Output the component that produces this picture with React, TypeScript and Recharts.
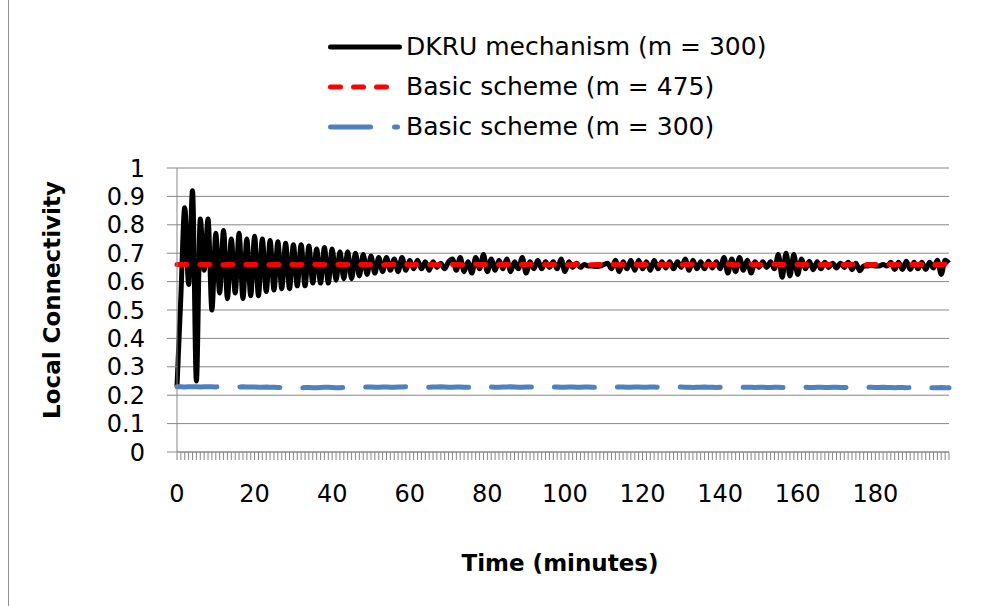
import React from 'react';
import { LineChart, Line, XAxis, YAxis, CartesianGrid, Legend, Label } from 'recharts';

// Time axis: one category per minute, 0 … 199
const minutes: number[] = Array.from({ length: 200 }, (_, i) => i);
const minuteLabels = [0, 20, 40, 60, 80, 100, 120, 140, 160, 180];
const connectivityTicks = [0, 0.1, 0.2, 0.3, 0.4, 0.5, 0.6, 0.7, 0.8, 0.9, 1];

// DKRU mechanism (m = 300)
const dkruValues = [
  0.23, 0.55, 0.86, 0.59, 0.92, 0.25, 0.82, 0.64, 0.82, 0.5,
  0.77, 0.56, 0.78, 0.54, 0.75, 0.56, 0.77, 0.54, 0.75, 0.55,
  0.76, 0.55, 0.75, 0.565, 0.745, 0.57, 0.74, 0.575, 0.735, 0.575,
  0.73, 0.585, 0.73, 0.585, 0.725, 0.595, 0.715, 0.595, 0.72, 0.595,
  0.715, 0.605, 0.705, 0.61, 0.705, 0.61, 0.7, 0.62, 0.695, 0.625,
  0.69, 0.63, 0.685, 0.635, 0.685, 0.64, 0.68, 0.635, 0.685, 0.64,
  0.675, 0.645, 0.675, 0.645, 0.67, 0.64, 0.67, 0.65, 0.665, 0.645,
  0.67, 0.68, 0.64, 0.685, 0.635, 0.67, 0.63, 0.685, 0.645, 0.695,
  0.635, 0.68, 0.64, 0.675, 0.645, 0.68, 0.635, 0.67, 0.645, 0.685,
  0.63, 0.67, 0.645, 0.675, 0.645, 0.67, 0.65, 0.67, 0.645, 0.68,
  0.635, 0.67, 0.65, 0.665, 0.65, 0.66, 0.655, 0.655, 0.653, 0.655,
  0.66, 0.665, 0.645, 0.675, 0.635, 0.67, 0.645, 0.675, 0.64, 0.675,
  0.645, 0.67, 0.64, 0.675, 0.645, 0.67, 0.648, 0.67, 0.645, 0.67,
  0.65, 0.68, 0.64, 0.675, 0.645, 0.67, 0.645, 0.672, 0.648, 0.67,
  0.645, 0.685, 0.63, 0.68, 0.635, 0.685, 0.64, 0.675, 0.63, 0.67,
  0.65, 0.67, 0.65, 0.67, 0.645, 0.695, 0.615, 0.7, 0.62, 0.695,
  0.625, 0.68, 0.645, 0.672, 0.642, 0.67, 0.645, 0.668, 0.65, 0.665,
  0.648, 0.665, 0.65, 0.668, 0.642, 0.665, 0.638, 0.655, 0.655, 0.658,
  0.655, 0.655, 0.66, 0.655, 0.668, 0.643, 0.668, 0.643, 0.672, 0.643,
  0.668, 0.645, 0.668, 0.643, 0.668, 0.648, 0.675, 0.625, 0.675, 0.665,
];

// Basic scheme (m = 475)
const basic475Values = [
  0.66, 0.66, 0.661, 0.66, 0.66, 0.659, 0.66, 0.66, 0.661, 0.66, 0.66, 0.66, 0.659, 0.66, 0.66, 0.661, 0.66, 0.66, 0.66, 0.66,
  0.66, 0.661, 0.66, 0.66, 0.659, 0.66, 0.66, 0.66, 0.661, 0.66, 0.66, 0.659, 0.66, 0.66, 0.66, 0.661, 0.66, 0.66, 0.66, 0.659,
  0.66, 0.66, 0.661, 0.66, 0.66, 0.66, 0.659, 0.66, 0.66, 0.661, 0.66, 0.66, 0.66, 0.659, 0.66, 0.66, 0.661, 0.66, 0.66, 0.66,
  0.659, 0.66, 0.66, 0.661, 0.66, 0.66, 0.66, 0.659, 0.66, 0.66, 0.661, 0.66, 0.66, 0.66, 0.659, 0.66, 0.66, 0.661, 0.66, 0.66,
  0.66, 0.66, 0.659, 0.66, 0.661, 0.66, 0.66, 0.66, 0.659, 0.66, 0.66, 0.661, 0.66, 0.66, 0.659, 0.66, 0.66, 0.66, 0.661, 0.66,
  0.66, 0.659, 0.66, 0.66, 0.661, 0.66, 0.66, 0.659, 0.66, 0.66, 0.66, 0.661, 0.66, 0.66, 0.659, 0.66, 0.66, 0.661, 0.66, 0.66,
  0.661, 0.66, 0.66, 0.659, 0.66, 0.66, 0.661, 0.66, 0.66, 0.66, 0.659, 0.66, 0.66, 0.661, 0.66, 0.66, 0.659, 0.66, 0.66, 0.66,
  0.66, 0.66, 0.661, 0.66, 0.659, 0.66, 0.66, 0.66, 0.661, 0.66, 0.66, 0.659, 0.66, 0.66, 0.661, 0.66, 0.66, 0.66, 0.659, 0.66,
  0.66, 0.661, 0.66, 0.66, 0.659, 0.66, 0.66, 0.661, 0.66, 0.66, 0.66, 0.659, 0.66, 0.66, 0.661, 0.66, 0.66, 0.659, 0.66, 0.66,
  0.66, 0.66, 0.659, 0.66, 0.661, 0.66, 0.66, 0.66, 0.659, 0.66, 0.66, 0.661, 0.66, 0.66, 0.66, 0.659, 0.66, 0.66, 0.661, 0.66,
];

// Basic scheme (m = 300)
const basic300Values = [
  0.23, 0.23, 0.229, 0.23, 0.23, 0.23, 0.229, 0.23, 0.23, 0.23, 0.229, 0.23, 0.23, 0.229, 0.229, 0.228, 0.229, 0.23, 0.229, 0.229,
  0.229, 0.228, 0.228, 0.229, 0.228, 0.228, 0.227, 0.227, 0.228, 0.228, 0.227, 0.227, 0.226, 0.227, 0.227, 0.226, 0.226, 0.227, 0.228, 0.228,
  0.227, 0.226, 0.226, 0.227, 0.228, 0.229, 0.229, 0.228, 0.228, 0.229, 0.229, 0.228, 0.228, 0.229, 0.229, 0.228, 0.228, 0.229, 0.229, 0.23,
  0.229, 0.229, 0.23, 0.229, 0.229, 0.228, 0.229, 0.229, 0.23, 0.229, 0.228, 0.228, 0.229, 0.229, 0.228, 0.228, 0.228, 0.229, 0.229, 0.228,
  0.229, 0.229, 0.228, 0.228, 0.229, 0.229, 0.23, 0.229, 0.228, 0.228, 0.229, 0.229, 0.228, 0.228, 0.229, 0.229, 0.228, 0.229, 0.229, 0.228,
  0.228, 0.229, 0.229, 0.228, 0.228, 0.229, 0.229, 0.228, 0.228, 0.229, 0.229, 0.228, 0.228, 0.228, 0.229, 0.229, 0.228, 0.228, 0.229, 0.229,
  0.228, 0.228, 0.229, 0.229, 0.228, 0.228, 0.229, 0.228, 0.228, 0.229, 0.229, 0.228, 0.228, 0.227, 0.228, 0.228, 0.229, 0.228, 0.228, 0.227,
  0.228, 0.228, 0.229, 0.228, 0.227, 0.227, 0.228, 0.228, 0.228, 0.227, 0.228, 0.228, 0.227, 0.227, 0.228, 0.228, 0.227, 0.228, 0.228, 0.227,
  0.227, 0.228, 0.228, 0.227, 0.227, 0.228, 0.228, 0.227, 0.227, 0.228, 0.228, 0.227, 0.227, 0.228, 0.228, 0.227, 0.227, 0.227, 0.228, 0.228,
  0.227, 0.227, 0.228, 0.227, 0.227, 0.226, 0.227, 0.227, 0.226, 0.227, 0.227, 0.226, 0.226, 0.227, 0.226, 0.226, 0.226, 0.227, 0.226, 0.226,
];

const chartData = minutes.map((t, i) => ({
  t,
  dkru: dkruValues[i],
  basic475: basic475Values[i],
  basic300: basic300Values[i],
}));

const FONT = '"DejaVu Sans", sans-serif';
const AXIS_GRAY = '#878787';
const BLUE = '#4F81BD';

const legendItems = [
  { key: 'dkru', name: 'DKRU mechanism (m = 300)' },
  { key: 'basic475', name: 'Basic scheme (m = 475)' },
  { key: 'basic300', name: 'Basic scheme (m = 300)' },
];

const LegendSample = ({ kind }: { kind: string }) => {
  if (kind === 'dkru') {
    return <line x1={2.5} y1={5} x2={71.5} y2={5} stroke="#000" strokeWidth={5} strokeLinecap="round" />;
  }
  if (kind === 'basic475') {
    return (
      <line x1={2.5} y1={5} x2={58.5} y2={5} stroke="#FF0000" strokeWidth={5}
        strokeLinecap="round" strokeDasharray="10 13" />
    );
  }
  return (
    <g>
      <line x1={2.5} y1={5} x2={42.5} y2={5} stroke={BLUE} strokeWidth={5} strokeLinecap="round" />
      <line x1={66.5} y1={5} x2={69.5} y2={5} stroke={BLUE} strokeWidth={5} strokeLinecap="round" />
    </g>
  );
};

const LegendRows = () => (
  <div style={{ paddingTop: 7, height: 141, fontFamily: FONT, fontSize: 25, color: '#000' }}>
    {legendItems.map((item) => (
      <div key={item.key} style={{ height: 40, display: 'flex', alignItems: 'center' }}>
        <svg width={74} height={10} style={{ display: 'block', flex: 'none' }}>
          <LegendSample kind={item.key} />
        </svg>
        <span style={{ marginLeft: 4, whiteSpace: 'nowrap', lineHeight: '40px' }}>{item.name}</span>
      </div>
    ))}
  </div>
);

const MinuteTick = (props: any) => {
  const { x, y, payload } = props;
  if (!minuteLabels.includes(payload.value)) return <g />;
  return (
    <text x={x} y={y} dy={40} textAnchor="middle" fontFamily={FONT} fontSize={24} fill="#000">
      {payload.value}
    </text>
  );
};

export default function App() {
  return (
    <div style={{ position: 'absolute', left: 0, top: 0, width: 986, height: 606, background: '#fff' }}>
      <div style={{ position: 'absolute', left: 8, top: 0, width: 1, height: 606, background: '#8f8f8f' }} />
      <LineChart
        width={986}
        height={606}
        data={chartData}
        margin={{ top: 20, right: 37, bottom: 0, left: 0 }}
      >
        <CartesianGrid vertical={false} stroke={AXIS_GRAY} strokeWidth={1} />
        <XAxis
          dataKey="t"
          interval={0}
          tickSize={8}
          tickLine={{ stroke: AXIS_GRAY }}
          axisLine={{ stroke: AXIS_GRAY }}
          tick={<MinuteTick />}
          height={154}
        >
          <Label
            content={(p: any) => {
              const vb = p.viewBox || { x: 177, y: 452, width: 772, height: 154 };
              return (
                <text x={vb.x + vb.width / 2 - 3} y={571} textAnchor="middle" fontFamily={FONT}
                  fontSize={23} fontWeight="bold" fill="#000">
                  Time (minutes)
                </text>
              );
            }}
          />
        </XAxis>
        <YAxis
          type="number"
          domain={[0, 1]}
          ticks={connectivityTicks}
          interval={0}
          width={177}
          tickSize={10}
          tickMargin={22}
          tickLine={{ stroke: AXIS_GRAY }}
          axisLine={{ stroke: AXIS_GRAY }}
          tick={{ fontFamily: FONT, fontSize: 24, fill: '#000' }}
        >
          <Label
            content={() => (
              <text x={52} y={300} transform="rotate(-90 52 300)" textAnchor="middle"
                dominantBaseline="central" fontFamily={FONT} fontSize={23} fontWeight="bold" fill="#000">
                Local Connectivity
              </text>
            )}
          />
        </YAxis>
        <Legend verticalAlign="top" content={<LegendRows />} wrapperStyle={{ left: 328, top: 20, width: 560 }} />
        <Line dataKey="dkru" name="DKRU mechanism (m = 300)" type="monotone" stroke="#000"
          strokeWidth={5} strokeLinejoin="round" dot={false} activeDot={false} isAnimationActive={false} />
        <Line dataKey="basic475" name="Basic scheme (m = 475)" type="linear" stroke="#FF0000"
          strokeWidth={5} strokeDasharray="10 13" strokeLinecap="round" dot={false} activeDot={false}
          isAnimationActive={false} />
        <Line dataKey="basic300" name="Basic scheme (m = 300)" type="linear" stroke={BLUE}
          strokeWidth={5} strokeDasharray="40 23" strokeLinecap="round" dot={false} activeDot={false}
          isAnimationActive={false} />
      </LineChart>
    </div>
  );
}
